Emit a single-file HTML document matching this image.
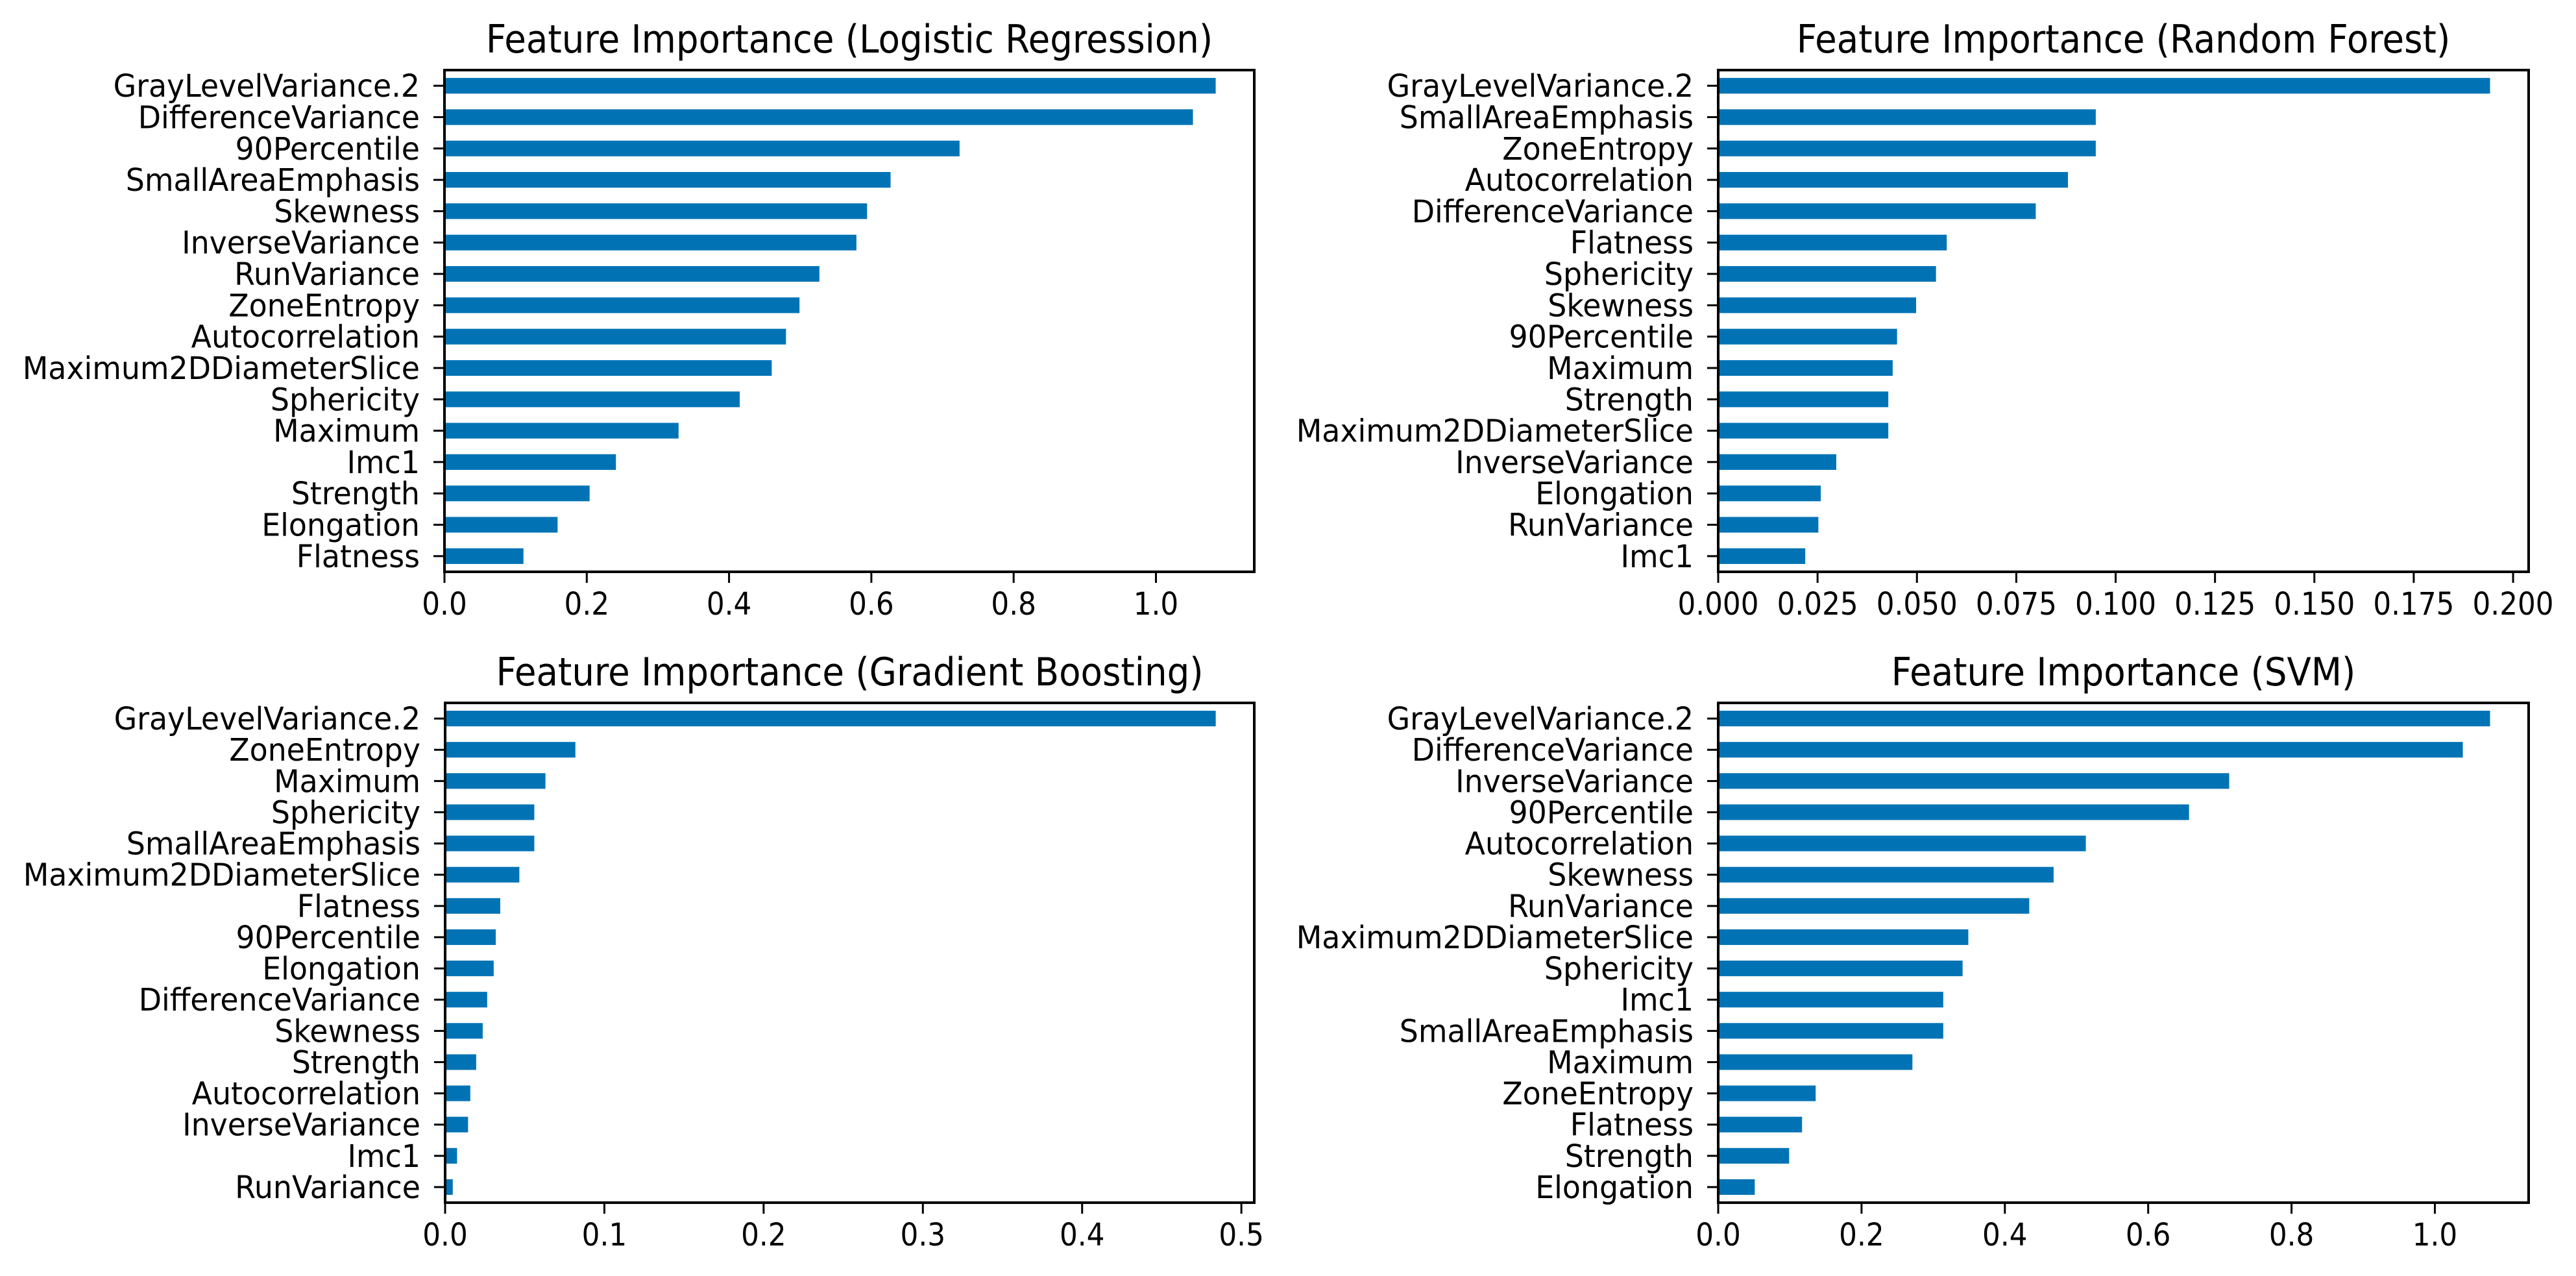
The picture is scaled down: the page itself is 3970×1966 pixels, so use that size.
<!DOCTYPE html>
<html><head><meta charset="utf-8">
<style>
html,body{margin:0;padding:0;background:#fff;}
svg{display:block;}
text{font-family:"DejaVu Sans","Liberation Sans",sans-serif;fill:#000;}
</style></head>
<body>
<svg id="fig" width="3970" height="1966" viewBox="0 0 3970 1966" xmlns="http://www.w3.org/2000/svg"></svg>
<script>
// ---- data ----
const lrTitle = "Feature Importance (Logistic Regression)";
const lrLabels = ["GrayLevelVariance.2","DifferenceVariance","90Percentile","SmallAreaEmphasis","Skewness","InverseVariance","RunVariance","ZoneEntropy","Autocorrelation","Maximum2DDiameterSlice","Sphericity","Maximum","Imc1","Strength","Elongation","Flatness"];
const lrValues = [1.084,1.052,0.724,0.627,0.594,0.579,0.527,0.499,0.480,0.460,0.415,0.329,0.241,0.204,0.159,0.111];
const lrTicks = [0,0.2,0.4,0.6,0.8,1.0];
const lrTickLabels = ["0.0","0.2","0.4","0.6","0.8","1.0"];

const rfTitle = "Feature Importance (Random Forest)";
const rfLabels = ["GrayLevelVariance.2","SmallAreaEmphasis","ZoneEntropy","Autocorrelation","DifferenceVariance","Flatness","Sphericity","Skewness","90Percentile","Maximum","Strength","Maximum2DDiameterSlice","InverseVariance","Elongation","RunVariance","Imc1"];
const rfValues = [0.1942,0.0950,0.0950,0.0880,0.0799,0.0575,0.0548,0.0498,0.0450,0.0439,0.0428,0.0428,0.0297,0.0258,0.0252,0.0219];
const rfTicks = [0,0.025,0.05,0.075,0.1,0.125,0.15,0.175,0.2];
const rfTickLabels = ["0.000","0.025","0.050","0.075","0.100","0.125","0.150","0.175","0.200"];

const gbTitle = "Feature Importance (Gradient Boosting)";
const gbLabels = ["GrayLevelVariance.2","ZoneEntropy","Maximum","Sphericity","SmallAreaEmphasis","Maximum2DDiameterSlice","Flatness","90Percentile","Elongation","DifferenceVariance","Skewness","Strength","Autocorrelation","InverseVariance","Imc1","RunVariance"];
const gbValues = [0.4839,0.0818,0.0630,0.0560,0.0560,0.0466,0.0346,0.0318,0.0305,0.0264,0.0236,0.0195,0.0158,0.0144,0.0075,0.0048];
const gbTicks = [0,0.1,0.2,0.3,0.4,0.5];
const gbTickLabels = ["0.0","0.1","0.2","0.3","0.4","0.5"];

const svmTitle = "Feature Importance (SVM)";
const svmLabels = ["GrayLevelVariance.2","DifferenceVariance","InverseVariance","90Percentile","Autocorrelation","Skewness","RunVariance","Maximum2DDiameterSlice","Sphericity","Imc1","SmallAreaEmphasis","Maximum","ZoneEntropy","Flatness","Strength","Elongation"];
const svmValues = [1.077,1.039,0.713,0.657,0.513,0.468,0.434,0.349,0.341,0.314,0.314,0.271,0.136,0.117,0.099,0.051];
const svmTicks = [0,0.2,0.4,0.6,0.8,1.0];
const svmTickLabels = ["0.0","0.2","0.4","0.6","0.8","1.0"];

// ---- drawing ----
const NS = "http://www.w3.org/2000/svg";
const svg = document.getElementById("fig");
const BAR = "#0173b5";
function mk(tag, attrs, parent){
  const e = document.createElementNS(NS, tag);
  for (const k in attrs) e.setAttribute(k, attrs[k]);
  (parent||svg).appendChild(e);
  return e;
}
function squeeze(t, f){
  const w = t.getComputedTextLength();
  t.setAttribute("textLength", (w*f).toFixed(1));
  t.setAttribute("lengthAdjust", "spacingAndGlyphs");
}
function panel(key, box, title, labels, values, ticks, tickLabels){
  const g = mk("g", {});
  
  
  const xmax = Math.max(...values) * 1.05;
  const xs = v => box.l + (v / xmax) * (box.r - box.l);
  const n = labels.length;
  const unit = (box.b - box.t) / n;
  const ys = i => box.t + (i + 0.5) * unit;
  for (let i = 0; i < n; i++){
    const r = mk("rect", {x: xs(0), y: ys(i) - unit*0.25, width: xs(values[i]) - xs(0), height: unit*0.5, fill: BAR}, g);
    
    
  }
  const f = mk("rect", {x: box.l, y: box.t, width: box.r - box.l, height: box.b - box.t, fill: "none", stroke: "#000", "stroke-width": 4}, g);
  
  
  for (let i = 0; i < n; i++){
    mk("line", {x1: box.l - 17, x2: box.l, y1: ys(i), y2: ys(i), stroke: "#000", "stroke-width": 3}, g);
    const t = mk("text", {x: box.l - 38, y: ys(i) + 17, "font-size": 48, "text-anchor": "end"}, g);
    t.textContent = labels[i];
    
    
    squeeze(t, 0.955);
  }
  for (let j = 0; j < ticks.length; j++){
    const x = xs(ticks[j]);
    mk("line", {x1: x, x2: x, y1: box.b, y2: box.b + 17, stroke: "#000", "stroke-width": 3}, g);
    const t = mk("text", {x: x, y: box.b + 66, "font-size": 48, "text-anchor": "middle"}, g);
    t.textContent = tickLabels[j];
    
    
    squeeze(t, 0.91);
  }
  const tt = mk("text", {x: (box.l + box.r)/2, y: box.t - 27, "font-size": 60, "text-anchor": "middle"}, g);
  tt.textContent = title;
  
  
  squeeze(tt, 0.91);
}
panel("logistic-regression", {l:685, r:1933, t:108, b:881}, lrTitle, lrLabels, lrValues, lrTicks, lrTickLabels);
panel("random-forest", {l:2648, r:3897, t:108, b:881}, rfTitle, rfLabels, rfValues, rfTicks, rfTickLabels);
panel("gradient-boosting", {l:686, r:1933, t:1083, b:1853}, gbTitle, gbLabels, gbValues, gbTicks, gbTickLabels);
panel("svm", {l:2648, r:3897, t:1083, b:1853}, svmTitle, svmLabels, svmValues, svmTicks, svmTickLabels);
</script>
</body></html>
